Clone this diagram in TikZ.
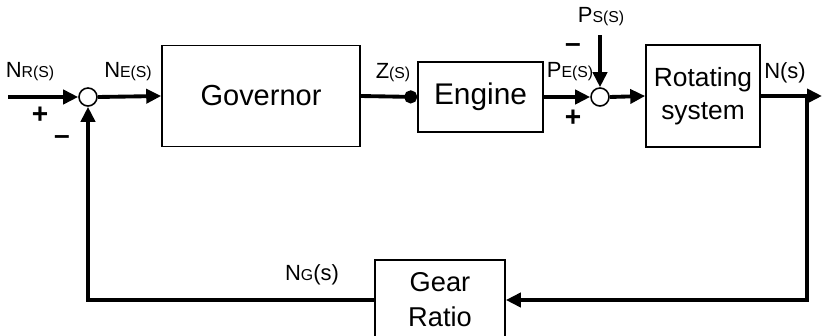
\documentclass[tikz,border=0pt]{standalone}
\usepackage{fontspec}
\setmainfont{Liberation Sans}
\usepackage{tikz}
\usetikzlibrary{arrows.meta,positioning}
\tikzset{
  % shared look of the speed-control loop
  gov/base/.style={
    font=\fontsize{12pt}{13pt}\selectfont,
    line cap=butt,
    line join=miter
  },
  gov/block/.style={
    draw,
    line width=.9pt,
    align=center,
    inner sep=0pt
  },
  gov/sum/.style={
    circle,
    draw,
    line width=.9pt,
    minimum size=.36cm,
    inner sep=0pt
  },
  gov/signal/.style={
    -{Triangle[length=3mm,width=2.8mm]},
    line width=2.2pt
  },
  gov/label/.style={
    font=\fontsize{12.5pt}{13pt}\selectfont,
    inner sep=0pt
  },
  gov/sign/.style={
    font=\bfseries\fontsize{16pt}{17pt}\selectfont,
    inner sep=0pt
  }
}
\newcommand{\sig}[2]{#1{\fontsize{9pt}{10pt}\selectfont #2}}

\begin{document}
\begin{tikzpicture}[gov/base,x=.02cm,y=-.02cm]
  \path[use as bounding box] (0,0) rectangle (822,335);
  % blocks and summing points
  \node[gov/sum] (sumA) at (88,97) {};
  \node[gov/block,minimum width=198*.02cm,minimum height=101*.02cm,
    font=\fontsize{16.5pt}{19pt}\selectfont] (governor) at (261,96) {Governor};
  \node[gov/block,minimum width=125*.02cm,minimum height=70*.02cm,
    font=\fontsize{17pt}{19pt}\selectfont] (engine) at (480.5,97) {Engine};
  \node[gov/sum] (sumB) at (600,97) {};
  \node[gov/block,minimum width=114*.02cm,minimum height=102*.02cm,
    font=\fontsize{15pt}{19pt}\selectfont] (rotating) at (703,96) {Rotating\\system};
  \node[gov/block,minimum width=130*.02cm,minimum height=80*.02cm,
    font=\fontsize{15.5pt}{20pt}\selectfont] (gear) at (440,300) {Gear\\Ratio};
  % free ends and corners
  \coordinate (inStart) at (8,97);
  \coordinate (outEnd) at (822,96);
  \coordinate (branch) at (807,96);
  \coordinate (branchLow) at (807,300);
  \coordinate (backLow) at (88,300);
  \coordinate (loadTop) at (600,35);

  % forward path
  \draw[gov/signal] (inStart) -- (sumA.west);
  \draw[gov/signal] (sumA.east) -- (governor.west);
  \draw[line width=2.2pt,-{Circle[length=2.6mm]}] (governor.east) -- (engine.west);
  \draw[gov/signal] (engine.east) -- (sumB.west);
  \draw[gov/signal] (loadTop) -- (sumB.north);
  \draw[gov/signal] (sumB.east) -- (rotating.west);
  \draw[gov/signal] (rotating.east |- outEnd) -- (outEnd);
  % feedback path
  \draw[gov/signal] (branch) -- (branchLow) -- (gear.east);
  \draw[gov/signal] (gear.west) -- (backLow) -- (sumA.south);

  % signal names
  \node[gov/label] (nR) at (30,72) {\sig{N}{R(S)}};
  \node[gov/label] (nE) at (128,72) {\sig{N}{E(S)}};
  \node[gov/label] (zS) at (393,73) {\sig{Z}{(S)}};
  \node[gov/label] (pE) at (570,72) {\sig{P}{E(S)}};
  \node[gov/label] (pS) at (601,17) {\sig{P}{S(S)}};
  \node[gov/label] (nS) at (785,73) {N(s)};
  \node[gov/label] (nG) at (312,275) {\sig{N}{G}(s)};
  % signs
  \node[gov/sign] (plusA) at (40,115) {+};
  \node[gov/sign] (minusA) at (62,140) {--};
  \node[gov/sign] (minusB) at (573,48) {--};
  \node[gov/sign] (plusB) at (573,118) {+};
\end{tikzpicture}
\end{document}
